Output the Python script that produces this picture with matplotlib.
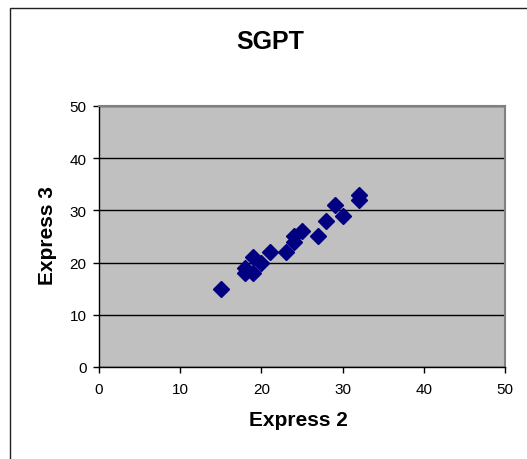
import matplotlib
matplotlib.use("Agg")
from matplotlib import pyplot as plt
from matplotlib.patches import Rectangle

# Express 2 vs Express 3 (SGPT)
express2 = [15, 18, 18, 19, 19, 20, 21, 23, 24, 24, 25, 27, 28, 29, 30, 32, 32]
express3 = [15, 19, 18, 18, 21, 20, 22, 22, 24, 25, 26, 25, 28, 31, 29, 32, 33]
ticks = [0, 10, 20, 30, 40, 50]

plt.rcParams['font.family'] = ['Liberation Sans', 'DejaVu Sans']

fig = plt.figure(figsize=(5.27, 4.6), dpi=100)
# chart border (runs off the right and bottom edge like the original)
fig.patches.append(Rectangle((0.019, -0.1), 1.2, 1.08, transform=fig.transFigure,
                             fill=False, edgecolor="#202020", linewidth=1))

ax = fig.add_axes([0.1879, 0.2, 0.7704, 0.5674])
ax.set_facecolor("#C0C0C0")
ax.plot(express2, express3, linestyle="none", marker="D", markersize=8.5,
        color="#000080", zorder=3)

ax.set_xlim(0, 50)
ax.set_ylim(0, 50)
ax.set_xticks(ticks)
ax.set_yticks(ticks)
ax.tick_params(direction="out", length=4, labelsize=11, width=1)
ax.tick_params(axis="x", pad=7)
ax.tick_params(axis="y", pad=5)
ax.grid(axis="y", color="black", linewidth=1)
ax.set_axisbelow(True)

for s in ["top", "right"]:
    ax.spines[s].set_color("#808080")
    ax.spines[s].set_linewidth(1.5)
for s in ["left", "bottom"]:
    ax.spines[s].set_color("black")
    ax.spines[s].set_linewidth(1)

fig.text(0.567, 0.085, "Express 2", ha="center", va="center", fontsize=15, fontweight="bold")
fig.text(0.091, 0.487, "Express 3", ha="center", va="center", fontsize=15,
         fontweight="bold", rotation=90)
fig.text(0.512, 0.908, "SGPT", ha="center", va="center", fontsize=18, fontweight="bold")

fig.savefig("out.png", dpi=100)
